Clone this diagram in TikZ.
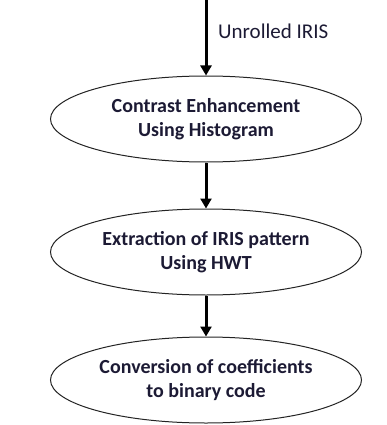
\documentclass[tikz,border=0pt]{standalone}
\usepackage{fontspec}
\setmainfont{Carlito}
\usetikzlibrary{arrows.meta,positioning,shapes.geometric}
\definecolor{textdark}{RGB}{28,26,52}
\definecolor{edgegray}{RGB}{35,35,35}

\begin{document}
\begin{tikzpicture}[x=1pt,y=1pt,
  stage/.style={ellipse,draw=edgegray,line width=1pt,minimum width=311pt,minimum height=86pt,inner sep=0pt,align=center,text=textdark,font=\bfseries\fontsize{20}{23.5}\selectfont},
  flow/.style={-{Triangle[length=10pt,width=11pt]},line width=3pt}]
  \useasboundingbox (0,0) rectangle (387,-425);
  \coordinate (src) at (206,0);
  \node[stage] (enhance) at (206,-119) {Contrast Enhancement\\Using Histogram};
  \node[stage,below=46pt of enhance] (extract) {Extraction of IRIS pattern\\Using HWT};
  \node[stage,below=41pt of extract] (convert) {Conversion of coefficients\\to binary code};
  \node[anchor=west,inner sep=0pt,text=textdark,font=\fontsize{21}{24}\selectfont] (unrolled) at (218,-31) {Unrolled IRIS};

  \draw[flow] (src) -- (enhance);
  \draw[flow] (enhance) -- (extract);
  \draw[flow] (extract) -- (convert);
\end{tikzpicture}
\end{document}
